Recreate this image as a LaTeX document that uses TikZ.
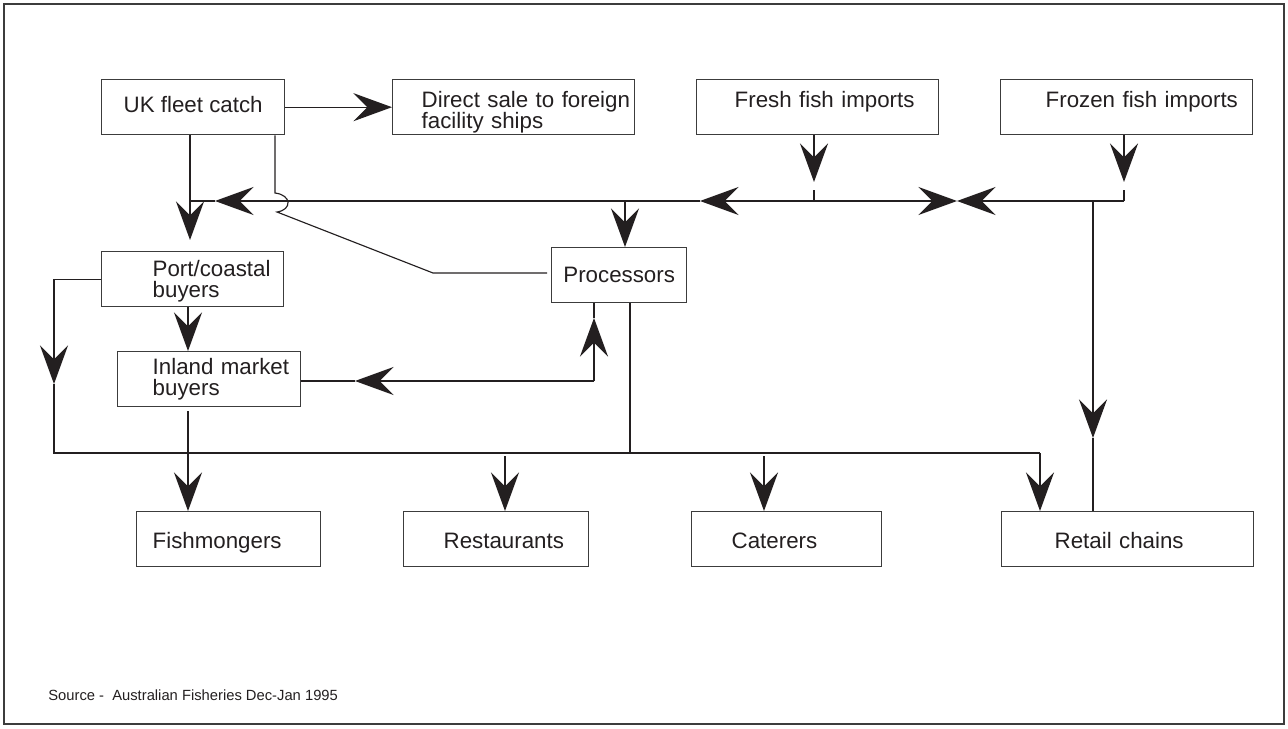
\documentclass[tikz,border=0pt]{standalone}
\usepackage{fontspec}
\setmainfont{Liberation Sans}
\usepackage{tikz}
\usetikzlibrary{arrows.meta,calc}
\definecolor{ink}{HTML}{231F20}
\definecolor{rulegray}{HTML}{3C3C3C}
\newcommand{\boxfont}{\fontsize{12.7pt}{11.9pt}\selectfont\lineskiplimit=-20pt}
\tikzset{
  box/.style={draw=rulegray,line width=0.8pt,rectangle,anchor=north west,inner sep=0pt,
    minimum height=1.1cm,align=left,font=\boxfont,text=ink},
  lskip/.style={execute at begin node={\leftskip=#1}},
  hightext/.style={text height=9.5pt,text depth=9.5pt},
  lowtext/.style={text height=13.7pt,text depth=2.7pt},
  link/.style={draw=ink,line width=0.65pt},
  flow/.style={link,-{Stealth[length=22pt,width=16pt,inset=8pt]}},
  frame/.style={draw=rulegray,line width=0.9pt}
}

\begin{document}
\begin{tikzpicture}[x=0.02cm,y=-0.02cm]
  \useasboundingbox (0,0) rectangle (1288,729);
  \draw[frame] (4,4) rectangle (1284,724);

  % Sources
  \node[box,minimum width=3.66cm,text height=9.5pt,text depth=3.3pt] (uk) at (101,79) {UK fleet catch};
  \node[box,text width=4.84cm,lskip=0.58cm,text height=14.6pt] (direct) at (392,79) {Direct sale to foreign\\facility ships};
  \node[box,text width=4.84cm,lskip=0.76cm,hightext] (fresh) at (696,79) {Fresh fish imports};
  \node[box,text width=5.04cm,lskip=0.9cm,hightext] (frozen) at (1000,79) {Frozen fish imports};

  % Buyers and processors
  \node[box,text width=3.64cm,lskip=1.02cm,text height=11.8pt] (port) at (101,251) {Port/coastal\\buyers};
  \node[box,text width=3.66cm,lskip=0.7cm] (inland) at (117,351) {Inland market\\buyers};
  \node[box,minimum width=2.7cm] (proc) at (551,247) {Processors};

  % Outlets
  \node[box,lowtext,text width=3.68cm,lskip=0.32cm] (fish) at (136,511) {Fishmongers};
  \node[box,lowtext,text width=3.7cm,lskip=0.8cm] (rest) at (403,511) {Restaurants};
  \node[box,lowtext,text width=3.8cm,lskip=0.8cm] (cater) at (691,511) {Caterers};
  \node[box,lowtext,text width=5.04cm,lskip=1.06cm] (retail) at (1001,511) {Retail chains};

  \node[font=\fontsize{8.4pt}{10pt}\selectfont,text=ink,anchor=base west,inner sep=0pt] (source) at (48,700) {Source -\ \ Australian Fisheries Dec-Jan 1995};

  % Junctions on the supply line
  \coordinate (mainL) at (190,201);
  \coordinate (tipA) at (215,201);
  \coordinate (procJ) at (625,201);
  \coordinate (tipB) at (700,201);
  \coordinate (freshJ) at (814,201);
  \coordinate (tipC) at (957,201);
  \coordinate (retJ) at (1093,201);
  \coordinate (frzJ) at (1124,201);
  \coordinate (hopT) at (275,193);
  \coordinate (hopB) at (277,212);
  \coordinate (bend) at (433,273);
  \coordinate (colA) at (188,0);
  \coordinate (tipD) at (54,384);
  \coordinate (botL) at (54,453);
  \coordinate (botR) at (1040,453);
  \coordinate (procR) at (630,453);
  \coordinate (restJ) at (505,456);
  \coordinate (catJ) at (764,456);
  \coordinate (tipE) at (1093,438);
  \coordinate (pcorner) at (594,381);
  \coordinate (tipF) at (594,318);
  \coordinate (tipG) at (355,381);

  % UK catch
  \draw[flow] (uk.east) -- (direct.west);
  \draw[flow,shorten >=0.22cm] (uk.south -| mainL) -- (port.north -| mainL);
  \draw[link] (uk.south -| hopT) -- (hopT) .. controls (292,195) and (292,210) .. (hopB)
    -- (bend) -- ([xshift=-0.08cm]proc.west |- bend);

  % Imports
  \draw[flow,shorten >=0.38cm] (fresh.south -| freshJ) -- (freshJ);
  \draw[link] (freshJ) -- ++(0,-11);
  \draw[flow,shorten >=0.38cm] (frozen.south -| frzJ) -- (frzJ);
  \draw[link] (frzJ) -- ++(0,-11);
  \draw[flow] (freshJ) -- (tipB);
  \draw[flow] (tipB) -- (tipA);
  \draw[link] (tipA) -- (mainL);
  \draw[flow] (freshJ) -- (tipC);
  \draw[flow] (frzJ) -- (tipC);
  \draw[flow] (procJ) -- (proc.north -| procJ);
  \draw[flow] (retJ) -- (tipE);
  \draw[link] (tipE) -- (retail.north -| retJ);

  % Buyers
  \draw[flow] (port.south -| colA) -- (inland.north -| colA);
  \draw[flow] (port.west) -| (tipD);
  \draw[link] (tipD) -- (botL) -- (botR);
  \draw[flow,shorten <=0.08cm] (inland.south -| colA) -- (fish.north -| colA);
  \draw[flow] (pcorner) -- (tipF);
  \draw[link] (tipF) -- (proc.south -| tipF);
  \draw[flow] (pcorner) -- (tipG);
  \draw[link] (tipG) -- (inland.east |- tipG);
  \draw[link] (proc.south -| procR) -- (procR);

  % Outlets
  \draw[flow] (restJ) -- (rest.north -| restJ);
  \draw[flow] (catJ) -- (cater.north -| catJ);
  \draw[flow] (botR) -- (retail.north -| botR);
\end{tikzpicture}
\end{document}
